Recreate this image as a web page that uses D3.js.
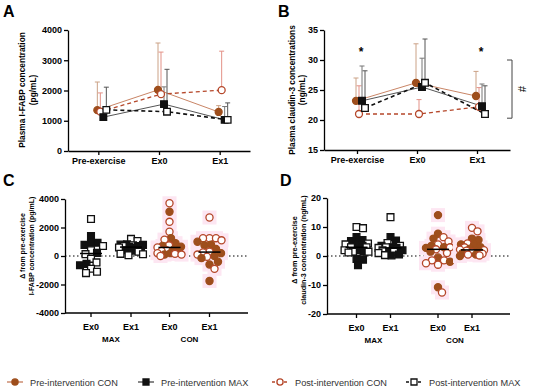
<!DOCTYPE html>
<html>
<head>
<meta charset="utf-8">
<script src="https://cdn.jsdelivr.net/npm/d3@7"></script>
<style>
  body { margin: 0; background: #fff; }
  svg { font-family: 'Liberation Sans', Arial, sans-serif; }
  .axis path, .axis line { stroke: #000; stroke-width: 1.3; }
  .axis text { font-family: 'Liberation Sans', Arial, sans-serif; font-weight: bold; font-size: 9px; fill: #000; }
</style>
</head>
<body>
<div id="chart"></div>
<script>
// ---- data ----
const timepoints = ['Pre-exercise', 'Ex0', 'Ex1']
const groups = ['MAX', 'CON']
const deltaTimes = ['Ex0', 'Ex1']

// panel A: plasma I-FABP (pg/mL), mean and upper SD
const fabpPreConMean = [1350, 2020, 1290]
const fabpPreConSd = [930, 1550, 210]
const fabpPostConMean = [1300, 1880, 2010]
const fabpPostConSd = [620, 1390, 1290]
const fabpPreMaxMean = [1120, 1550, 1030]
const fabpPreMaxSd = [250, 570, 440]
const fabpPostMaxMean = [1360, 1300, 1030]
const fabpPostMaxSd = [750, 1400, 560]

// panel B: plasma claudin-3 (ng/mL)
const cldnPreConMean = [23.2, 26.2, 24.0]
const cldnPreConSd = [3.8, 6.5, 4.1]
const cldnPostConMean = [21.0, 21.0, 22.2]
const cldnPostConSd = [4.7, 2.4, 3.2]
const cldnPreMaxMean = [23.2, 25.5, 22.3]
const cldnPreMaxSd = [5.8, 4.8, 3.7]
const cldnPostMaxMean = [22.0, 26.2, 21.0]
const cldnPostMaxSd = [6.2, 7.3, 4.7]
const cldnSigMarks = [{ t: 'Pre-exercise', v: 31.6 }, { t: 'Ex1', v: 31.6 }]
const cldnBracket = [30, 20.3]

// panel C: delta I-FABP from pre-exercise (pg/mL)
const dFabpMaxEx0Pre = [1400, 930, 930, 780, 220, -550, -650]
const dFabpMaxEx0Post = [2600, 700, 400, 130, -200, -450, -900, -1100, -1200]
const dFabpMaxEx1Pre = [820, 800, 780, 700, 650, 600, 550, 400, 380]
const dFabpMaxEx1Post = [1200, 1050, 760, 700, 600, 300, 150, 120, 50]
const dFabpConEx0Pre = [3100, 1250, 900, 700, 650, 450, 300, 200, 100]
const dFabpConEx0Post = [3700, 2400, 1700, 1150, 750, 600, 400, 350, 200, 150, 100, 0]
const dFabpConEx1Pre = [1000, 800, 750, 500, 200, 0, -150, -400, -600, -1750]
const dFabpConEx1Post = [2700, 1250, 1250, 1250, 1100, 300, 250, 100, -50, -900]

// panel D: delta claudin-3 from pre-exercise (ng/mL)
const dCldnMaxEx0Pre = [6.5, 5.5, 5.2, 4.0, 3.5, 2.0, 1.5, -1.0, -1.3, -3.2]
const dCldnMaxEx0Post = [10, 9.6, 4.3, 4.0, 3.0, 3.0, 2.0, 1.5, 1.5, 1.2]
const dCldnMaxEx1Pre = [6.5, 5.3, 3.5, 3.0, 2.8, 2.0, 1.5, 0.5, 0.2]
const dCldnMaxEx1Post = [13.4, 4.5, 3.5, 3.0, 2.8, 2.0, 1.5, 1.0, 0.3]
const dCldnConEx0Pre = [14.1, 7.7, 6.0, 3.5, 3.0, 2.8, 1.5, -0.5, -2.0, -10.8]
const dCldnConEx0Post = [6.5, 5.0, 4.0, 3.0, 2.3, 1.0, -1.5, -1.5, -2.5, -3.0, -12.6]
const dCldnConEx1Pre = [6.0, 5.5, 4.0, 3.8, 3.0, 2.5, 2.0, 1.5, 1.0, 0.5, 0.0]
const dCldnConEx1Post = [9.7, 8.5, 4.3, 3.0, 2.2, 2.0, 1.8, 1.2, 0.8, 0.5, 0.2]

const legendLabels = ['Pre-intervention CON', 'Pre-intervention MAX', 'Post-intervention CON', 'Post-intervention MAX']
const legendKeys = ['preCON', 'preMAX', 'postCON', 'postMAX']

// ---- styles ----
const styles = {
  preCON:  { shape: d3.symbolCircle, fill: '#9e4e1c', stroke: '#9e4e1c', line: '#c98566', dash: null, err: '#cba286', lw: 1 },
  postCON: { shape: d3.symbolCircle, fill: '#fff', stroke: '#b5472a', line: '#b5472a', dash: '4,3', err: '#e39187', lw: 1.3 },
  preMAX:  { shape: d3.symbolSquare, fill: '#111', stroke: '#111', line: '#555', dash: null, err: '#777', lw: 1 },
  postMAX: { shape: d3.symbolSquare, fill: '#fff', stroke: '#111', line: '#111', dash: '4,3', err: '#555', lw: 1.6 },
}
const seriesOrder = ['preCON', 'postCON', 'preMAX', 'postMAX']
const fmt = d => String(d)

const svg = d3.select('#chart').append('svg').attr('width', 550).attr('height', 391)

function marker(g, key, x, y, size) {
  const s = styles[key]
  const sz = size || (s.shape === d3.symbolCircle ? 38 : 44)
  g.append('path')
    .attr('d', d3.symbol().type(s.shape).size(sz)())
    .attr('transform', `translate(${x},${y})`)
    .attr('fill', s.fill)
    .attr('stroke', s.stroke)
    .attr('stroke-width', 1.3)
}

function panelLetter(txt, x, y) {
  svg.append('text').attr('x', x).attr('y', y).text(txt)
    .style('font-size', '16px').style('font-weight', 'bold')
}

function yLabel(lines, xs, cy, size) {
  lines.forEach((t, i) => {
    svg.append('text')
      .attr('transform', `translate(${xs[i]},${cy}) rotate(-90)`)
      .attr('text-anchor', 'middle')
      .style('font-size', size + 'px').style('font-weight', 'bold')
      .text(t)
  })
}

function timeCourse(o) {
  const x = d3.scalePoint().domain(timepoints).range([o.x0, o.x1]).padding(o.pad)
  const y = d3.scaleLinear().domain(o.domain).range([o.yBottom, o.yTop])
  const off = d3.scalePoint().domain(seriesOrder).range([-1, 8])
  const g = svg.append('g')

  g.append('g').attr('class', 'axis').attr('transform', `translate(0,${o.yBottom})`)
    .call(d3.axisBottom(x).tickSize(4).tickSizeOuter(0))
  g.append('g').attr('class', 'axis').attr('transform', `translate(${o.x0},0)`)
    .call(d3.axisLeft(y).tickValues(o.ticks).tickFormat(fmt).tickSize(4).tickPadding(2).tickSizeOuter(0))

  const series = seriesOrder.map(k => ({
    key: k,
    pts: timepoints.map((t, i) => ({ x: x(t) + off(k), m: o.data[k].mean[i], sd: o.data[k].sd[i] }))
  }))

  series.forEach(s => {
    const st = styles[s.key]
    g.append('path').datum(s.pts)
      .attr('d', d3.line().x(p => p.x).y(p => y(p.m)))
      .attr('fill', 'none').attr('stroke', st.line)
      .attr('stroke-width', st.lw).attr('stroke-dasharray', st.dash)
  })
  series.forEach(s => {
    const st = styles[s.key]
    s.pts.forEach(p => {
      g.append('path')
        .attr('d', `M${p.x},${y(p.m)}V${y(p.m + p.sd)}M${p.x - 2.5},${y(p.m + p.sd)}H${p.x + 2.5}`)
        .attr('fill', 'none').attr('stroke', st.err).attr('stroke-width', 1)
    })
  })
  series.forEach(s => s.pts.forEach(p => marker(g, s.key, p.x, y(p.m))))
  return { x, y, g }
}

// simple beeswarm, kept within +-maxDx, overlapping when crowded
function swarm(points, D, maxDx) {
  const placed = []
  points.sort((a, b) => a.py - b.py)
  points.forEach(p => {
    let best = 0, bestDist = -1
    for (let k = 0; ; k++) {
      const dx = k === 0 ? 0 : (k % 2 ? 1 : -1) * Math.ceil(k / 2) * 0.5
      if (Math.abs(dx) > maxDx) break
      const dmin = placed.length ? d3.min(placed, q => Math.hypot(dx - q.dx, p.py - q.py)) : Infinity
      if (dmin >= D) { best = dx; bestDist = dmin; break }
      if (dmin > bestDist) { best = dx; bestDist = dmin }
    }
    p.dx = best
    placed.push(p)
  })
  return points
}

function deltaPanel(o) {
  const gx = d3.scalePoint().domain(groups).range(o.groupRange)
  const ix = d3.scalePoint().domain(deltaTimes).range([-o.half, o.half])
  const y = d3.scaleLinear().domain(o.domain).range([o.yBottom, o.yTop])
  const g = svg.append('g')

  g.append('g').attr('class', 'axis').attr('transform', `translate(${o.x0},0)`)
    .call(d3.axisLeft(y).tickValues(o.ticks).tickFormat(fmt).tickSize(4).tickPadding(2).tickSizeOuter(0))

  // x axis
  const xa = g.append('g').attr('class', 'axis')
  xa.append('line').attr('x1', o.x0).attr('x2', o.x1).attr('y1', o.yBottom).attr('y2', o.yBottom)
  groups.forEach(gr => deltaTimes.forEach(t => {
    const cx = gx(gr) + ix(t)
    xa.append('line').attr('x1', cx).attr('x2', cx).attr('y1', o.yBottom).attr('y2', o.yBottom + 4)
    xa.append('text').attr('x', cx).attr('y', o.yBottom + 17).attr('text-anchor', 'middle').text(t)
  }))
  groups.forEach(gr => {
    g.append('text').attr('x', gx(gr)).attr('y', o.yBottom + 29).attr('text-anchor', 'middle')
      .style('font-size', '8px').style('font-weight', 'bold').text(gr)
  })

  // zero line
  g.append('line').attr('x1', o.x0).attr('x2', o.x1).attr('y1', y(0)).attr('y2', y(0))
    .attr('stroke', '#000').attr('stroke-width', 1).attr('stroke-dasharray', '1.5,2.5')

  groups.forEach(gr => deltaTimes.forEach(t => {
    const cx = gx(gr) + ix(t)
    const cell = o.data[gr][t]
    const pts = []
    cell.pre.forEach(v => pts.push({ v, py: y(v), key: 'pre' + gr }))
    cell.post.forEach(v => pts.push({ v, py: y(v), key: 'post' + gr }))
    swarm(pts, 6.5, 12)
    if (gr === 'CON') {
      pts.forEach(p => g.append('rect')
        .attr('x', cx + p.dx - 7).attr('y', p.py - 7).attr('width', 14).attr('height', 14)
        .attr('fill', '#fde6f2'))
    }
    const med = d3.median(pts, p => p.v)
    pts.forEach(p => marker(g, p.key, cx + p.dx, p.py, p.key.endsWith('CON') ? 40 : 46))
    g.append('line').attr('x1', cx - 11).attr('x2', cx + 11).attr('y1', y(med)).attr('y2', y(med))
      .attr('stroke', '#000').attr('stroke-width', 1.5)
  }))
}

// ---- panel A ----
panelLetter('A', 3, 17)
timeCourse({
  x0: 68, x1: 250, yTop: 30, yBottom: 151, pad: 0.5,
  domain: [0, 4000], ticks: [0, 1000, 2000, 3000, 4000],
  data: {
    preCON: { mean: fabpPreConMean, sd: fabpPreConSd },
    postCON: { mean: fabpPostConMean, sd: fabpPostConSd },
    preMAX: { mean: fabpPreMaxMean, sd: fabpPreMaxSd },
    postMAX: { mean: fabpPostMaxMean, sd: fabpPostMaxSd },
  }
})
yLabel(['Plasma I-FABP concentration', '(pg/mL)'], [25, 36], 90, 8.3)

// ---- panel B ----
panelLetter('B', 278, 17)
const pB = timeCourse({
  x0: 324, x1: 510, yTop: 30, yBottom: 150, pad: 0.55,
  domain: [15, 35], ticks: [15, 20, 25, 30, 35],
  data: {
    preCON: { mean: cldnPreConMean, sd: cldnPreConSd },
    postCON: { mean: cldnPostConMean, sd: cldnPostConSd },
    preMAX: { mean: cldnPreMaxMean, sd: cldnPreMaxSd },
    postMAX: { mean: cldnPostMaxMean, sd: cldnPostMaxSd },
  }
})
yLabel(['Plasma claudin-3 concentrations', '(ng/mL)'], [295, 305], 90, 8.3)
cldnSigMarks.forEach(s => {
  svg.append('text').attr('x', pB.x(s.t) + 4).attr('y', pB.y(s.v) + 6).attr('text-anchor', 'middle')
    .style('font-size', '12px').style('font-weight', 'bold').text('*')
})
svg.append('path')
  .attr('d', `M507,${pB.y(cldnBracket[0])}H512V${pB.y(cldnBracket[1])}H507`)
  .attr('fill', 'none').attr('stroke', '#444').attr('stroke-width', 1)
svg.append('text')
  .attr('transform', `translate(518,${(pB.y(cldnBracket[0]) + pB.y(cldnBracket[1])) / 2}) rotate(90)`)
  .attr('text-anchor', 'middle').style('font-size', '11px').text('#')

// ---- panel C ----
panelLetter('C', 3, 186)
deltaPanel({
  x0: 65, x1: 248, yTop: 199, yBottom: 313,
  domain: [-4000, 4000], ticks: [-4000, -2000, 0, 2000, 4000],
  groupRange: [111, 189.5], half: 20,
  data: {
    MAX: { Ex0: { pre: dFabpMaxEx0Pre, post: dFabpMaxEx0Post }, Ex1: { pre: dFabpMaxEx1Pre, post: dFabpMaxEx1Post } },
    CON: { Ex0: { pre: dFabpConEx0Pre, post: dFabpConEx0Post }, Ex1: { pre: dFabpConEx1Pre, post: dFabpConEx1Post } },
  }
})
yLabel(['\u0394 from pre-exercise', 'I-FABP concentration (pg/mL)'], [25, 34], 246, 7)

// ---- panel D ----
panelLetter('D', 280, 186)
deltaPanel({
  x0: 327, x1: 510, yTop: 198, yBottom: 314,
  domain: [-20, 20], ticks: [-20, -10, 0, 10, 20],
  groupRange: [373.5, 455], half: 17,
  data: {
    MAX: { Ex0: { pre: dCldnMaxEx0Pre, post: dCldnMaxEx0Post }, Ex1: { pre: dCldnMaxEx1Pre, post: dCldnMaxEx1Post } },
    CON: { Ex0: { pre: dCldnConEx0Pre, post: dCldnConEx0Post }, Ex1: { pre: dCldnConEx1Pre, post: dCldnConEx1Post } },
  }
})
yLabel(['\u0394 from pre-exercise', 'claudin-3 concentration (ng/mL)'], [297, 306], 250, 7.2)

// ---- legend ----
const legendX = [15, 146, 280, 414]
const legend = svg.append('g')
legendKeys.forEach((k, i) => {
  const st = styles[k]
  const cx = legendX[i], cy = 382
  legend.append('line').attr('x1', cx - 8).attr('x2', cx + 8).attr('y1', cy).attr('y2', cy)
    .attr('stroke', st.line).attr('stroke-width', 1.4).attr('stroke-dasharray', st.dash ? '3,3' : null)
  marker(legend, k, cx, cy, st.shape === d3.symbolCircle ? 30 : 36)
  legend.append('text').attr('x', cx + 15).attr('y', cy + 3.5)
    .style('font-size', '9.2px').style('fill', '#333').text(legendLabels[i])
})
</script>
</body>
</html>
